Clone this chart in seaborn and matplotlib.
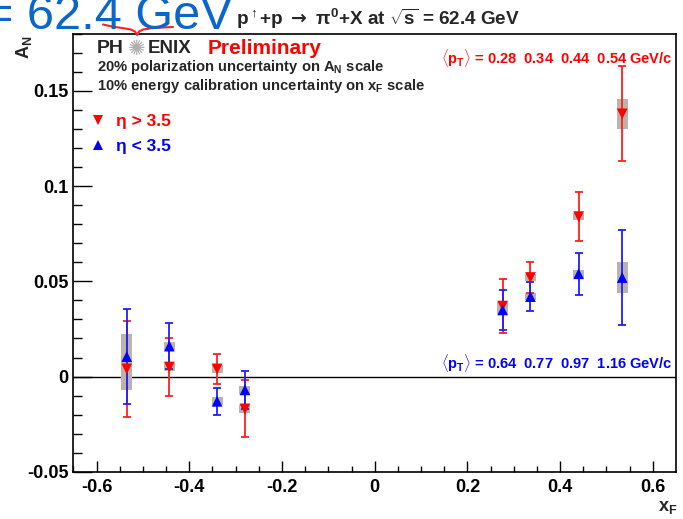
import numpy as np
import pandas as pd
import matplotlib
matplotlib.use("Agg")
import matplotlib.pyplot as plt
from matplotlib.lines import Line2D
from matplotlib.ticker import MultipleLocator
import seaborn as sns

# values
xf_fwd = [-0.535, -0.443, -0.340, -0.280, 0.276, 0.336, 0.440, 0.534]
an_big = [0.004, 0.005, 0.004, -0.017, 0.037, 0.052, 0.084, 0.138]   # eta > 3.5
err_big = [0.025, 0.015, 0.008, 0.015, 0.014, 0.008, 0.013, 0.025]
sys_big = [0.011, 0.002, 0.002, 0.002, 0.002, 0.002, 0.002, 0.008]
an_small = [0.0105, 0.016, -0.013, -0.007, 0.035, 0.042, 0.054, 0.052]  # eta < 3.5
err_small = [0.025, 0.012, 0.007, 0.010, 0.0105, 0.0075, 0.011, 0.025]
sys_small = [0.012, 0.002, 0.002, 0.002, 0.002, 0.002, 0.002, 0.008]
pt_big = "0.28  0.34  0.44  0.54"
pt_small = "0.64  0.77  0.97  1.16"
lab_big = "\u03b7 > 3.5"
lab_small = "\u03b7 < 3.5"

sns.set_style("ticks")
plt.rcParams["font.family"] = ["Liberation Sans", "DejaVu Sans"]
plt.rcParams["font.weight"] = "bold"
plt.rcParams["mathtext.fontset"] = "custom"
plt.rcParams["mathtext.rm"] = "Liberation Sans:bold"
plt.rcParams["mathtext.it"] = "Liberation Sans:bold"
plt.rcParams["mathtext.bf"] = "Liberation Sans:bold"
plt.rcParams["mathtext.sf"] = "DejaVu Sans:bold"

RED = "#ff0000"
BLUE = "#0000ff"
GRAY = "#bcb4aa"

df = pd.concat([
    pd.DataFrame({"xF": xf_fwd, "AN": an_big, "err": err_big, "sys": sys_big,
                  "eta": lab_big}),
    pd.DataFrame({"xF": xf_fwd, "AN": an_small, "err": err_small, "sys": sys_small,
                  "eta": lab_small}),
], ignore_index=True)

fig = plt.figure(figsize=(6.83, 5.19), dpi=100)
ax = fig.add_axes([0.1064, 0.0911, 0.8829, 0.8436])

# systematic boxes
for lab in [lab_big, lab_small]:
    d = df[df["eta"] == lab]
    ax.bar(d["xF"], 2 * d["sys"], bottom=d["AN"] - d["sys"], width=0.024,
           color=GRAY, zorder=1, linewidth=0)
for lab, col in [(lab_big, "#ff2020"), (lab_small, "#2020ff")]:
    d = df[df["eta"] == lab]
    ax.errorbar(d["xF"], d["AN"], yerr=d["err"], fmt="none", ecolor=col,
                elinewidth=1.3, capsize=3.2, capthick=1.3, zorder=2)

sns.scatterplot(data=df, x="xF", y="AN", hue="eta", style="eta",
                palette={lab_big: RED, lab_small: BLUE},
                markers={lab_big: "v", lab_small: "^"},
                s=60, linewidth=0, ax=ax, zorder=3)

ax.axhline(0, color="black", lw=1.0, zorder=0)
ax.set_xlim(-0.6516, 0.6494)
ax.set_ylim(-0.05, 0.18)
ax.xaxis.set_minor_locator(MultipleLocator(0.05))
ax.yaxis.set_minor_locator(MultipleLocator(0.01))
ax.set_xticks([-0.6, -0.4, -0.2, 0, 0.2, 0.4, 0.6],
              ["-0.6", "-0.4", "-0.2", "0", "0.2", "0.4", "0.6"])
ax.set_yticks([-0.05, 0, 0.05, 0.1, 0.15], ["-0.05", "0", "0.05", "0.1", "0.15"])
ax.tick_params(axis="both", which="both", direction="in", top=False, right=False,
               labelsize=13, colors="black", width=1)
ax.tick_params(axis="x", which="major", length=8, pad=5)
ax.tick_params(axis="x", which="minor", length=4.5)
ax.tick_params(axis="y", which="major", length=13.5, pad=3)
ax.tick_params(axis="y", which="minor", length=6.5)
for s in ax.spines.values():
    s.set_color("black")
    s.set_linewidth(1.2)
ax.set_xlabel("")
ax.set_ylabel("")

# legend with coloured texts
h, l = ax.get_legend_handles_labels()
leg = ax.legend(h, l, loc="upper left", bbox_to_anchor=(-0.005, 0.852), frameon=False,
                fontsize=12.5, handletextpad=0.25, labelspacing=0.52, handlelength=1.5)
for t, c in zip(leg.get_texts(), [RED, BLUE]):
    t.set_color(c)

# axis titles
fig.text(668 / 683, 1 - 507 / 519, r"x$_{F}$", fontsize=13, ha="center", va="center")
fig.text(24 / 683, 1 - 47 / 519, r"A$_{N}$", fontsize=13, ha="center", va="center",
         rotation=90)

# header
fig.text(233 / 683, 1 - 29 / 519, "= 62.4 GeV", fontsize=35, color="#0a66c8",
         ha="right", va="baseline", fontweight="normal")
fig.text(236 / 683, 1 - 25 / 519,
         r"p$^{\uparrow}$+p $\mathsf{\rightarrow}$ $\pi^{0}$+X at $\sqrt{s}$ = 62.4 GeV",
         fontsize=13.6, ha="left", va="baseline")
bx = np.array([103, 112, 122, 131, 135, 137, 139, 143, 152, 162, 173])
by = np.array([24.5, 26.5, 28.0, 29.5, 31.5, 35, 31.5, 29.5, 28.2, 27.5, 27.0])
fig.add_artist(Line2D(bx / 683, 1 - by / 519, color="#ff2020", lw=1.5,
                      transform=fig.transFigure))

# PHENIX label
ax.text(0.040, 0.966, "PH", transform=ax.transAxes, fontsize=14, va="center")
ax.text(0.092, 0.966, "\u273a", transform=ax.transAxes, fontsize=15, va="center",
        color="#b0b0b0", family="DejaVu Sans")
ax.text(0.125, 0.966, "ENIX", transform=ax.transAxes, fontsize=13.5, va="center")
ax.text(0.223, 0.966, "Preliminary", transform=ax.transAxes, fontsize=15,
        va="center", color=RED)
ax.text(0.040, 0.924, r"20% polarization uncertainty on A$_{\mathrm{N}}$ scale",
        transform=ax.transAxes, fontsize=10.6, va="center")
ax.text(0.040, 0.882, r"10% energy calibration uncertainty on x$_{\mathrm{F}}$ scale",
        transform=ax.transAxes, fontsize=10.6, va="center")

# mean pT labels
ax.text(0.995, 0.945, r"$\langle$p$_{\mathrm{T}}\rangle$ = " + pt_big + " GeV/c",
        transform=ax.transAxes, fontsize=10.5, ha="right", va="center", color=RED)
ax.text(0.995, 0.249, r"$\langle$p$_{\mathrm{T}}\rangle$ = " + pt_small + " GeV/c",
        transform=ax.transAxes, fontsize=10.5, ha="right", va="center", color=BLUE)

fig.savefig("out.png", dpi=100)
